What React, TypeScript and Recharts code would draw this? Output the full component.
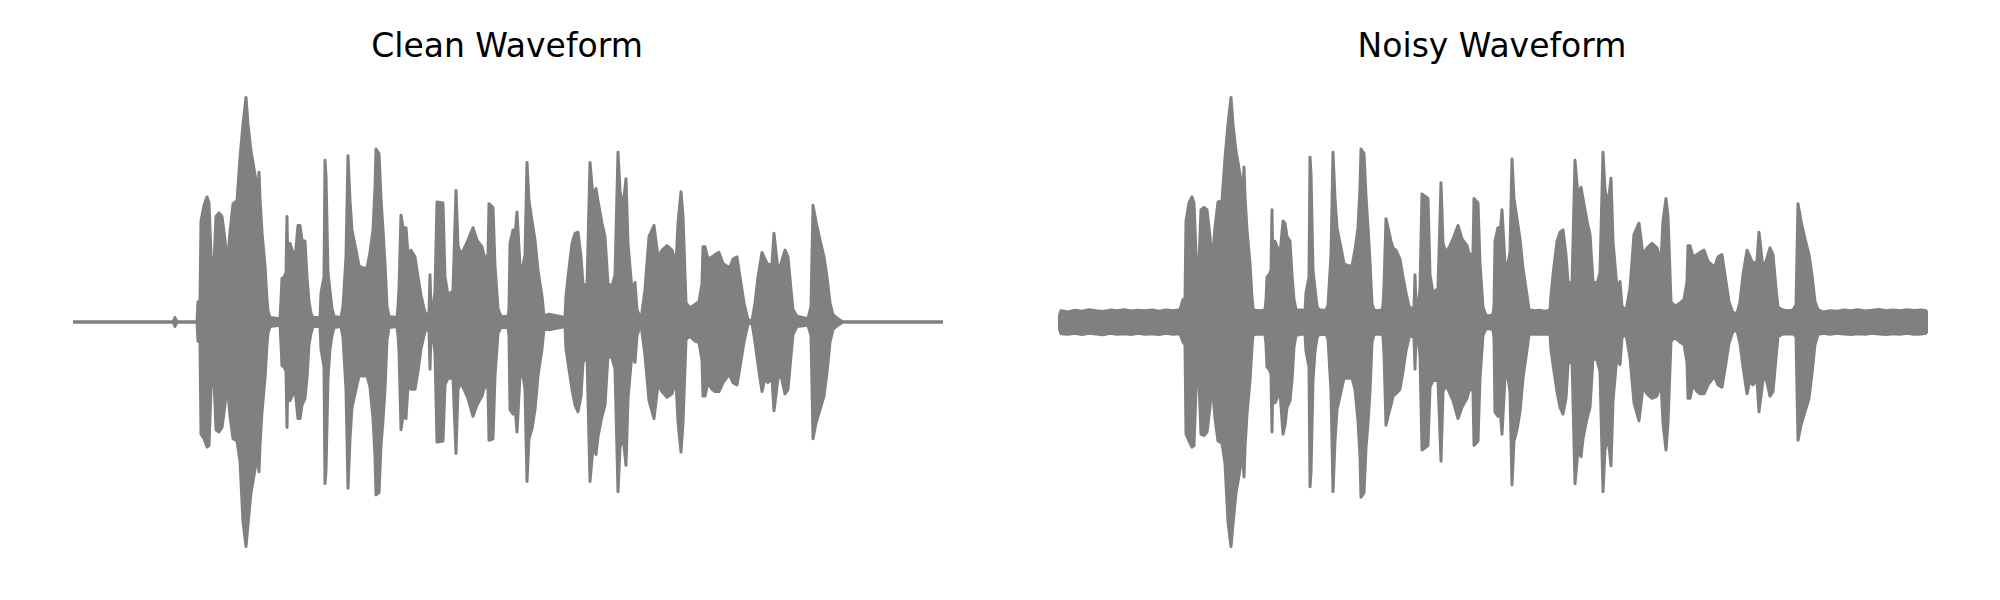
import { ComposedChart, Area, XAxis, YAxis } from 'recharts'

// matplotlib 'gray'
const GRAY = '#808080'
const FRAME_MAX = 870

// Clean waveform envelope (frame index, upper and lower sample amplitude, normalised)
const cleanFrames = [
  0, 100, 102, 104, 124, 125, 127, 128, 131, 134,
  136, 138, 139, 141, 143, 146, 149, 152, 154, 157,
  160, 164, 167, 170, 173, 175, 178, 180, 183, 185,
  186, 187, 189, 192, 194, 195, 197, 207, 208, 209,
  211, 213, 214, 215, 216, 217, 222, 225, 227, 229,
  232, 234, 236, 238, 240, 247, 248, 251, 252, 253,
  255, 257, 259, 261, 268, 270, 273, 275, 277, 279,
  283, 286, 290, 294, 297, 300, 302, 303, 306, 308,
  310, 312, 314, 316, 324, 325, 326, 328, 330, 333,
  335, 338, 342, 345, 348, 351, 353, 356, 357, 358,
  360, 362, 364, 370, 372, 375, 380, 383, 385, 388,
  392, 395, 400, 404, 409, 412, 415, 416, 420, 422,
  425, 428, 435, 436, 437, 440, 442, 444, 447, 450,
  452, 454, 456, 459, 462, 465, 469, 471, 476, 492,
  493, 495, 499, 502, 505, 508, 510, 514, 517, 520,
  523, 525, 529, 532, 535, 539, 542, 545, 547, 550,
  553, 555, 559, 562, 564, 568, 572, 576, 581, 585,
  589, 594, 599, 603, 605, 608, 610, 613, 617, 622,
  626, 629, 630, 632, 635, 639, 642, 646, 650, 655,
  657, 660, 664, 667, 671, 675, 679, 682, 685, 689,
  692, 695, 699, 701, 705, 708, 712, 715, 718, 720,
  724, 735, 738, 740, 743, 747, 751, 754, 757, 760,
  765, 770, 870,
]

const cleanPeak = [
  0, 0, 0.02, 0, 0, 0.09, 0.09, 0.45, 0.52, 0.557,
  0.53, 0.3, 0.26, 0.26, 0.47, 0.486, 0.47, 0.365, 0.25, 0.4,
  0.527, 0.54, 0.73, 0.88, 1.0, 0.88, 0.76, 0.71, 0.63, 0.58,
  0.667, 0.55, 0.4, 0.25, 0.1, 0.05, 0.02, 0.015, 0.1, 0.195,
  0.2, 0.22, 0.47, 0.2, 0.3, 0.35, 0.28, 0.43, 0.43, 0.365,
  0.36, 0.2, 0.09, 0.04, 0.02, 0.02, 0.13, 0.2, 0.72, 0.65,
  0.22, 0.14, 0.06, 0.025, 0.02, 0.07, 0.29, 0.74, 0.54, 0.41,
  0.32, 0.25, 0.24, 0.24, 0.31, 0.41, 0.6, 0.77, 0.75, 0.55,
  0.41, 0.26, 0.07, 0.025, 0.02, 0.07, 0.15, 0.475, 0.42, 0.42,
  0.3, 0.32, 0.29, 0.2, 0.12, 0.06, 0.03, 0.04, 0.21, 0.05,
  0.06, 0.14, 0.535, 0.53, 0.2, 0.12, 0.14, 0.586, 0.34, 0.3,
  0.335, 0.365, 0.42, 0.365, 0.335, 0.28, 0.3, 0.527, 0.51, 0.25,
  0.06, 0.025, 0.025, 0.06, 0.35, 0.41, 0.38, 0.49, 0.25, 0.25,
  0.3, 0.71, 0.54, 0.45, 0.365, 0.23, 0.115, 0.026, 0.035, 0.02,
  0.115, 0.2, 0.35, 0.395, 0.4, 0.29, 0.17, 0.16, 0.71, 0.557,
  0.594, 0.54, 0.44, 0.38, 0.17, 0.16, 0.21, 0.756, 0.586, 0.51,
  0.638, 0.35, 0.14, 0.176, 0.055, 0.01, 0.144, 0.38, 0.43, 0.29,
  0.32, 0.34, 0.32, 0.26, 0.44, 0.58, 0.47, 0.085, 0.063, 0.078,
  0.092, 0.17, 0.335, 0.335, 0.28, 0.29, 0.3, 0.31, 0.26, 0.246,
  0.246, 0.28, 0.29, 0.2, 0.085, 0.01, 0.005, 0.085, 0.2, 0.31,
  0.28, 0.255, 0.26, 0.395, 0.23, 0.26, 0.32, 0.29, 0.144, 0.055,
  0.026, 0.015, 0.07, 0.52, 0.446, 0.365, 0.29, 0.2, 0.085, 0.033,
  0.014, 0, 0,
]

const cleanTrough = [
  0, 0, -0.02, 0, 0, -0.085, -0.09, -0.5, -0.52, -0.557,
  -0.55, -0.3, -0.26, -0.26, -0.48, -0.49, -0.47, -0.37, -0.26, -0.42,
  -0.52, -0.53, -0.62, -0.89, -1.0, -0.9, -0.76, -0.71, -0.63, -0.6,
  -0.667, -0.55, -0.4, -0.25, -0.1, -0.05, -0.02, -0.015, -0.1, -0.195,
  -0.2, -0.22, -0.47, -0.2, -0.3, -0.35, -0.3, -0.43, -0.43, -0.37,
  -0.34, -0.25, -0.1, -0.05, -0.02, -0.02, -0.12, -0.2, -0.72, -0.66,
  -0.25, -0.12, -0.06, -0.025, -0.02, -0.07, -0.3, -0.74, -0.52, -0.38,
  -0.3, -0.24, -0.24, -0.24, -0.29, -0.43, -0.6, -0.77, -0.76, -0.55,
  -0.44, -0.3, -0.08, -0.025, -0.02, -0.06, -0.13, -0.48, -0.42, -0.43,
  -0.28, -0.3, -0.3, -0.22, -0.12, -0.06, -0.03, -0.04, -0.21, -0.05,
  -0.06, -0.14, -0.535, -0.53, -0.28, -0.25, -0.25, -0.586, -0.3, -0.27,
  -0.31, -0.34, -0.42, -0.37, -0.33, -0.28, -0.3, -0.527, -0.52, -0.24,
  -0.05, -0.025, -0.025, -0.06, -0.39, -0.41, -0.37, -0.49, -0.24, -0.24,
  -0.3, -0.71, -0.52, -0.475, -0.39, -0.24, -0.12, -0.03, -0.035, -0.02,
  -0.12, -0.18, -0.3, -0.37, -0.4, -0.33, -0.18, -0.15, -0.71, -0.56,
  -0.59, -0.51, -0.42, -0.37, -0.15, -0.16, -0.21, -0.756, -0.56, -0.505,
  -0.638, -0.34, -0.14, -0.18, -0.06, -0.01, -0.15, -0.35, -0.43, -0.28,
  -0.31, -0.335, -0.32, -0.26, -0.446, -0.58, -0.45, -0.077, -0.063, -0.085,
  -0.092, -0.17, -0.33, -0.33, -0.27, -0.3, -0.31, -0.31, -0.27, -0.24,
  -0.24, -0.27, -0.28, -0.2, -0.09, -0.01, -0.005, -0.09, -0.19, -0.31,
  -0.25, -0.27, -0.25, -0.395, -0.25, -0.24, -0.32, -0.3, -0.15, -0.055,
  -0.02, -0.015, -0.06, -0.52, -0.45, -0.39, -0.33, -0.225, -0.09, -0.033,
  -0.014, 0, 0,
]

// Noisy waveform envelope
const noisyFrames = [
  0, 3, 10, 17, 24, 31, 38, 45, 52, 59,
  66, 73, 80, 87, 94, 101, 108, 115, 122, 125,
  127, 128, 131, 134, 136, 138, 139, 141, 143, 146,
  149, 152, 154, 157, 160, 164, 167, 170, 173, 175,
  178, 180, 183, 185, 186, 187, 189, 192, 194, 195,
  197, 202, 207, 208, 209, 211, 213, 214, 215, 216,
  217, 222, 225, 227, 229, 232, 234, 236, 238, 243,
  247, 248, 251, 252, 253, 255, 257, 259, 261, 265,
  268, 270, 273, 275, 277, 279, 283, 286, 290, 294,
  297, 300, 302, 303, 306, 308, 310, 312, 314, 316,
  320, 324, 325, 326, 328, 330, 333, 335, 338, 342,
  345, 348, 351, 353, 356, 357, 358, 360, 362, 364,
  370, 372, 375, 380, 383, 385, 388, 392, 395, 400,
  404, 409, 412, 415, 416, 420, 422, 425, 428, 432,
  435, 436, 437, 440, 442, 444, 447, 450, 452, 454,
  456, 459, 462, 465, 469, 471, 476, 481, 486, 492,
  493, 495, 499, 502, 505, 508, 510, 514, 517, 520,
  523, 525, 529, 532, 535, 539, 542, 545, 547, 550,
  553, 555, 559, 562, 564, 568, 572, 576, 581, 585,
  589, 594, 599, 603, 605, 608, 610, 613, 617, 622,
  626, 629, 630, 632, 635, 639, 642, 646, 650, 655,
  657, 660, 664, 667, 671, 675, 679, 682, 685, 689,
  692, 695, 699, 701, 705, 708, 712, 715, 718, 720,
  724, 729, 735, 738, 740, 743, 747, 751, 754, 757,
  760, 765, 772, 779, 786, 793, 800, 807, 814, 821,
  828, 835, 842, 849, 856, 863, 868, 870,
]

const noisyPeak = [
  0.012, 0.05, 0.045, 0.052, 0.048, 0.055, 0.05, 0.047, 0.053, 0.05,
  0.055, 0.049, 0.052, 0.05, 0.054, 0.048, 0.053, 0.05, 0.055, 0.1,
  0.1, 0.45, 0.53, 0.557, 0.53, 0.3, 0.27, 0.27, 0.5, 0.51,
  0.5, 0.38, 0.26, 0.42, 0.535, 0.54, 0.73, 0.88, 1.0, 0.88,
  0.76, 0.71, 0.63, 0.58, 0.69, 0.56, 0.41, 0.26, 0.11, 0.06,
  0.052, 0.05, 0.054, 0.1, 0.2, 0.21, 0.23, 0.5, 0.21, 0.31,
  0.36, 0.3, 0.45, 0.44, 0.38, 0.36, 0.21, 0.1, 0.055, 0.053,
  0.05, 0.13, 0.2, 0.734, 0.66, 0.23, 0.15, 0.07, 0.055, 0.052,
  0.053, 0.075, 0.3, 0.756, 0.55, 0.42, 0.33, 0.26, 0.25, 0.25,
  0.32, 0.42, 0.6, 0.77, 0.75, 0.56, 0.42, 0.27, 0.08, 0.053,
  0.05, 0.054, 0.075, 0.16, 0.46, 0.42, 0.36, 0.33, 0.32, 0.28,
  0.2, 0.13, 0.07, 0.06, 0.065, 0.21, 0.065, 0.07, 0.15, 0.57,
  0.55, 0.21, 0.13, 0.15, 0.62, 0.35, 0.31, 0.34, 0.37, 0.43,
  0.37, 0.34, 0.29, 0.31, 0.55, 0.53, 0.26, 0.065, 0.03, 0.028,
  0.035, 0.07, 0.36, 0.42, 0.39, 0.5, 0.26, 0.26, 0.31, 0.726,
  0.55, 0.46, 0.37, 0.24, 0.12, 0.055, 0.05, 0.052, 0.048, 0.052,
  0.12, 0.21, 0.36, 0.4, 0.41, 0.3, 0.18, 0.17, 0.72, 0.56,
  0.6, 0.55, 0.45, 0.39, 0.18, 0.17, 0.22, 0.756, 0.59, 0.52,
  0.64, 0.36, 0.15, 0.18, 0.07, 0.05, 0.15, 0.39, 0.44, 0.3,
  0.33, 0.35, 0.33, 0.27, 0.45, 0.55, 0.47, 0.09, 0.07, 0.085,
  0.1, 0.18, 0.34, 0.34, 0.29, 0.3, 0.31, 0.32, 0.27, 0.25,
  0.25, 0.29, 0.3, 0.21, 0.09, 0.04, 0.04, 0.09, 0.21, 0.32,
  0.29, 0.26, 0.27, 0.4, 0.24, 0.27, 0.33, 0.3, 0.15, 0.065,
  0.055, 0.05, 0.054, 0.075, 0.527, 0.45, 0.37, 0.3, 0.21, 0.09,
  0.055, 0.045, 0.05, 0.048, 0.053, 0.05, 0.055, 0.049, 0.052, 0.056,
  0.05, 0.054, 0.05, 0.055, 0.051, 0.054, 0.05, 0.03,
]

const noisyTrough = [
  -0.012, -0.052, -0.055, -0.05, -0.056, -0.05, -0.054, -0.057, -0.05, -0.055,
  -0.052, -0.056, -0.05, -0.055, -0.052, -0.056, -0.05, -0.055, -0.052, -0.09,
  -0.1, -0.5, -0.53, -0.557, -0.55, -0.3, -0.27, -0.27, -0.5, -0.505,
  -0.49, -0.38, -0.26, -0.43, -0.53, -0.54, -0.63, -0.89, -1.0, -0.9,
  -0.76, -0.71, -0.63, -0.6, -0.69, -0.56, -0.41, -0.26, -0.11, -0.06,
  -0.055, -0.053, -0.055, -0.1, -0.2, -0.21, -0.23, -0.49, -0.21, -0.31,
  -0.36, -0.31, -0.5, -0.46, -0.38, -0.35, -0.26, -0.11, -0.06, -0.055,
  -0.054, -0.13, -0.2, -0.734, -0.67, -0.26, -0.13, -0.07, -0.055, -0.056,
  -0.054, -0.075, -0.31, -0.756, -0.53, -0.39, -0.31, -0.25, -0.25, -0.25,
  -0.3, -0.44, -0.6, -0.78, -0.76, -0.56, -0.45, -0.31, -0.09, -0.055,
  -0.054, -0.055, -0.065, -0.14, -0.46, -0.42, -0.37, -0.33, -0.32, -0.3,
  -0.22, -0.13, -0.07, -0.06, -0.07, -0.21, -0.065, -0.07, -0.15, -0.57,
  -0.55, -0.29, -0.26, -0.26, -0.62, -0.31, -0.28, -0.32, -0.35, -0.43,
  -0.38, -0.34, -0.29, -0.31, -0.55, -0.53, -0.25, -0.06, -0.03, -0.03,
  -0.035, -0.07, -0.4, -0.42, -0.38, -0.5, -0.25, -0.25, -0.31, -0.726,
  -0.53, -0.48, -0.4, -0.25, -0.125, -0.055, -0.054, -0.055, -0.053, -0.055,
  -0.125, -0.19, -0.31, -0.38, -0.41, -0.34, -0.19, -0.16, -0.72, -0.57,
  -0.6, -0.52, -0.43, -0.38, -0.16, -0.17, -0.22, -0.756, -0.57, -0.51,
  -0.64, -0.35, -0.15, -0.19, -0.07, -0.052, -0.16, -0.36, -0.44, -0.29,
  -0.32, -0.34, -0.33, -0.27, -0.45, -0.57, -0.45, -0.085, -0.07, -0.09,
  -0.1, -0.18, -0.34, -0.34, -0.28, -0.31, -0.32, -0.32, -0.28, -0.25,
  -0.25, -0.28, -0.29, -0.21, -0.095, -0.04, -0.04, -0.095, -0.2, -0.32,
  -0.26, -0.28, -0.26, -0.4, -0.26, -0.25, -0.33, -0.31, -0.16, -0.065,
  -0.055, -0.054, -0.052, -0.065, -0.527, -0.46, -0.4, -0.34, -0.23, -0.1,
  -0.055, -0.05, -0.055, -0.05, -0.054, -0.056, -0.052, -0.055, -0.05, -0.054,
  -0.056, -0.052, -0.055, -0.05, -0.055, -0.053, -0.05, -0.03,
]

const titles = ['Clean Waveform', 'Noisy Waveform']

interface WaveformProps {
  frames: number[]
  peak: number[]
  trough: number[]
  left: number
  plotLeft: number
}

function Waveform({ frames, peak, trough, left, plotLeft }: WaveformProps) {
  const data = frames.map((t, i) => ({ t, range: [trough[i], peak[i]] }))
  return (
    <div style={{ position: 'absolute', left, top: 0 }}>
      <ComposedChart
        width={1000}
        height={600}
        data={data}
        margin={{ top: 84, bottom: 40, left: plotLeft, right: 1000 - plotLeft - FRAME_MAX }}
      >
        <XAxis type="number" dataKey="t" domain={[0, FRAME_MAX]} allowDataOverflow hide />
        <YAxis type="number" domain={[-1.06, 1.06]} allowDataOverflow hide />
        <Area
          type="linear"
          dataKey="range"
          stroke={GRAY}
          strokeWidth={3}
          strokeLinejoin="round"
          strokeLinecap="round"
          fill={GRAY}
          fillOpacity={1}
          dot={false}
          activeDot={false}
          isAnimationActive={false}
        />
      </ComposedChart>
    </div>
  )
}

export default function App() {
  return (
    <div style={{ position: 'absolute', left: 0, top: 0, width: 2000, height: 600, background: '#ffffff' }}>
      <Waveform frames={cleanFrames} peak={cleanPeak} trough={cleanTrough} left={0} plotLeft={73} />
      <Waveform frames={noisyFrames} peak={noisyPeak} trough={noisyTrough} left={1000} plotLeft={58} />
      <svg
        width={2000}
        height={600}
        style={{ position: 'absolute', left: 0, top: 0, pointerEvents: 'none' }}
      >
        <text x={507} y={57} textAnchor="middle" fontFamily="DejaVu Sans" fontSize={33} fill="#000000">
          {titles[0]}
        </text>
        <text x={1492} y={57} textAnchor="middle" fontFamily="DejaVu Sans" fontSize={33} fill="#000000">
          {titles[1]}
        </text>
      </svg>
    </div>
  )
}
